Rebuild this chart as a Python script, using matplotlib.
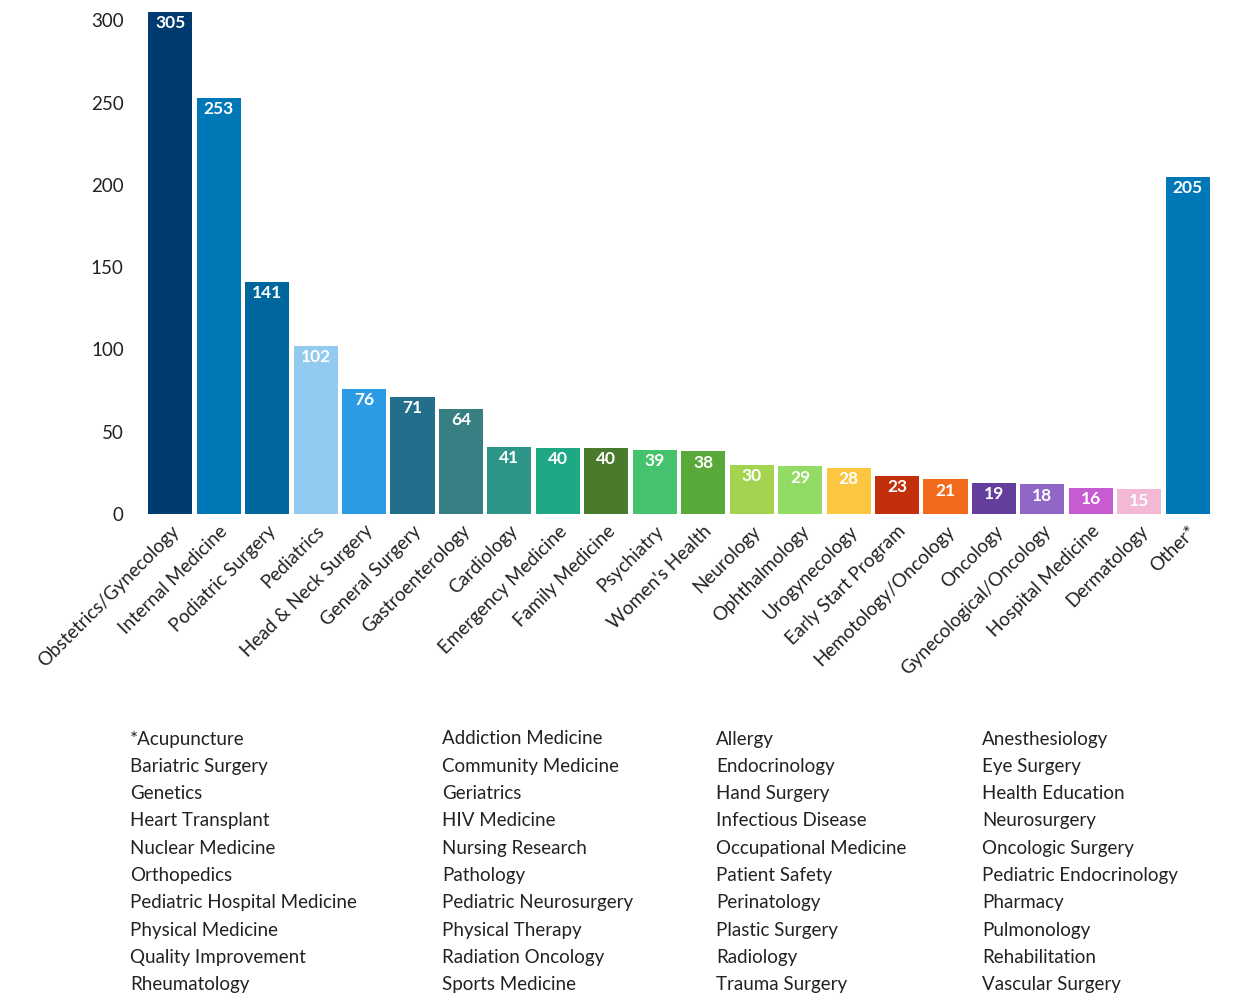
import matplotlib
matplotlib.use("Agg")
import matplotlib.pyplot as plt

categories = ["Obstetrics/Gynecology", "Internal Medicine", "Podiatric Surgery", "Pediatrics",
              "Head & Neck Surgery", "General Surgery", "Gastroenterology", "Cardiology",
              "Emergency Medicine", "Family Medicine", "Psychiatry", "Women's Health",
              "Neurology", "Ophthalmology", "Urogynecology", "Early Start Program",
              "Hemotology/Oncology", "Oncology", "Gynecological/Oncology", "Hospital Medicine",
              "Dermatology", "Other*"]
values = [305, 253, 141, 102, 76, 71, 64, 41, 40, 40, 39, 38, 30, 29, 28, 23, 21, 19, 18, 16, 15, 205]
colors = ["#003a70", "#0077b6", "#00669e", "#93cbf0", "#2a9be4", "#236f8b", "#377f82",
          "#2e9688", "#1fa886", "#4a7a2c", "#45c26d", "#58a83a", "#a4d350", "#92dc66",
          "#fdc640", "#c1300a", "#f26b1d", "#633e9c", "#9066c6", "#c65bd2", "#f2b8d6", "#0077b6"]

other_cols = [
    ["*Acupuncture", "Bariatric Surgery", "Genetics", "Heart Transplant", "Nuclear Medicine",
     "Orthopedics", "Pediatric Hospital Medicine", "Physical Medicine", "Quality Improvement",
     "Rheumatology"],
    ["Addiction Medicine", "Community Medicine", "Geriatrics", "HIV Medicine", "Nursing Research",
     "Pathology", "Pediatric Neurosurgery", "Physical Therapy", "Radiation Oncology",
     "Sports Medicine"],
    ["Allergy", "Endocrinology", "Hand Surgery", "Infectious Disease", "Occupational Medicine",
     "Patient Safety", "Perinatology", "Plastic Surgery", "Radiology", "Trauma Surgery"],
    ["Anesthesiology", "Eye Surgery", "Health Education", "Neurosurgery", "Oncologic Surgery",
     "Pediatric Endocrinology", "Pharmacy", "Pulmonology", "Rehabilitation", "Vascular Surgery"],
]

plt.rcParams["font.family"] = ["Lato", "DejaVu Sans"]
W, H = 1239, 1007
fig = plt.figure(figsize=(W / 100, H / 100), dpi=100)
ax = fig.add_axes([146 / W, 1 - 514 / H, (1212 - 146) / W, (514 - 12) / H])

x = range(len(values))
ax.bar(x, values, width=0.91, color=colors)
for i, v in enumerate(values):
    ax.text(i, v - 2, str(v), ha="center", va="top", color="white",
            fontsize=12.5, fontweight="bold")

ax.set_xlim(-0.5, len(values) - 0.5)
ax.set_ylim(0, 305)
ax.set_yticks(range(0, 301, 50))
ax.set_xticks(list(x))
ax.set_xticklabels(categories, rotation=45, ha="right", rotation_mode="anchor",
                   fontsize=13.5, color="#222222")
ax.tick_params(axis="y", labelsize=13.5, length=0, pad=16, labelcolor="#222222")
ax.tick_params(axis="x", length=0, pad=6)
for s in ax.spines.values():
    s.set_visible(False)

col_x = [130, 442, 716, 982]
for cx, names in zip(col_x, other_cols):
    for j, name in enumerate(names):
        fig.text(cx / W, 1 - (739 + j * 27.3) / H, name, fontsize=13.5,
                 color="#222222", va="center", ha="left")

fig.savefig("out.png", dpi=100)
